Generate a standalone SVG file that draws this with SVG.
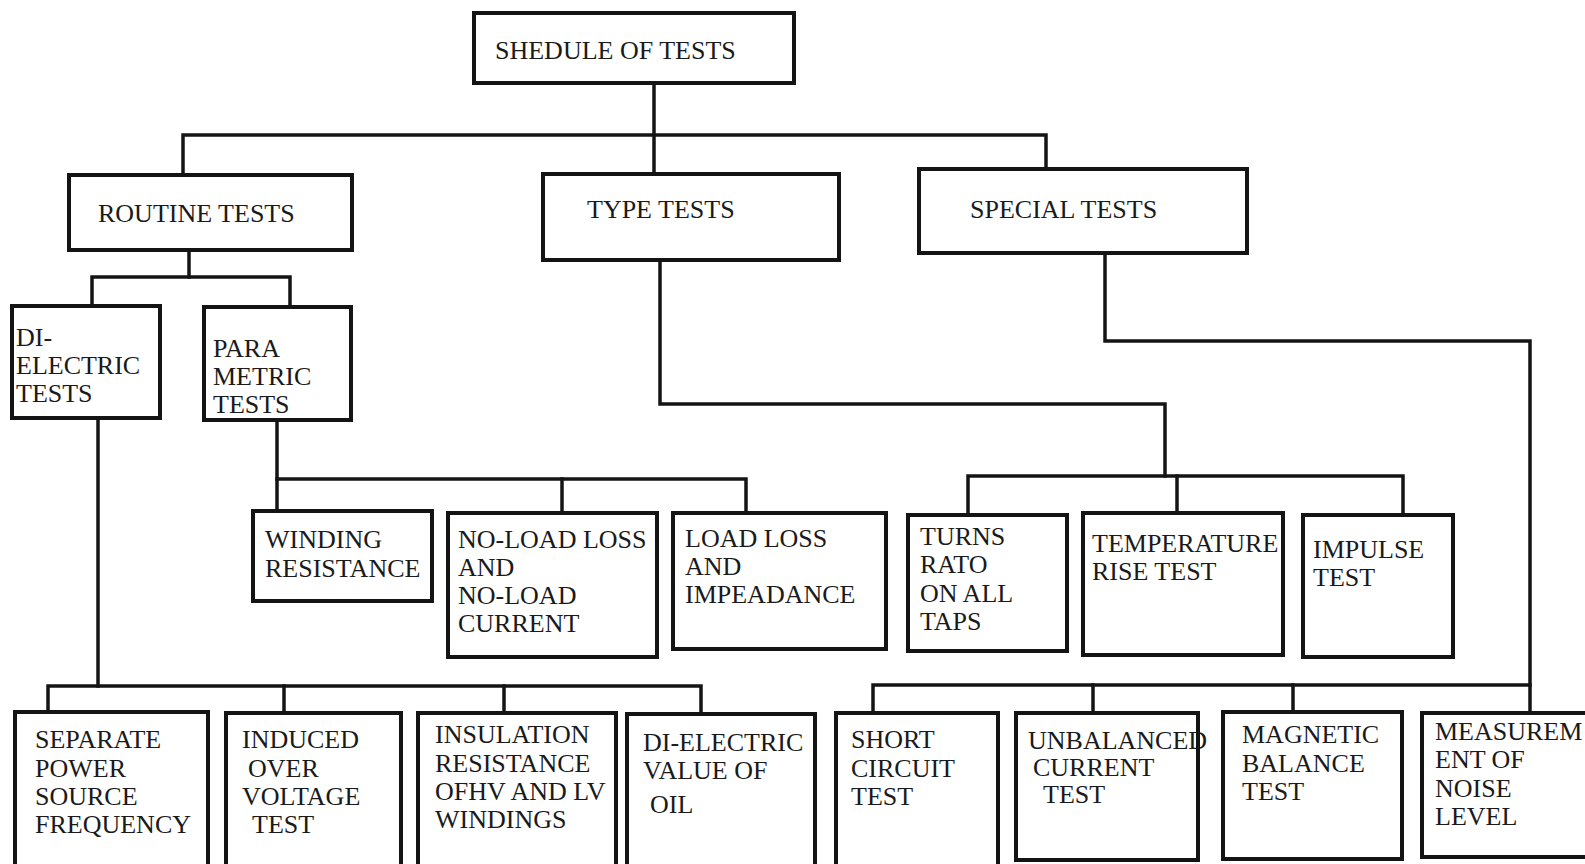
<svg xmlns="http://www.w3.org/2000/svg" width="1585" height="864" viewBox="0 0 1585 864">
<style>
.b{fill:#fff;stroke:#141414;stroke-width:4}
.c{fill:none;stroke:#141414;stroke-width:3.5;stroke-linecap:square}
text{font-family:"Liberation Serif","Times New Roman",serif;font-size:26px;fill:#1a1a1a}
</style>
<rect width="1585" height="864" fill="#fff"/>
<g id="connectors" class="c">
<polyline points="654,83 654,174"/>
<polyline points="183,174 183,135 1046,135 1046,169"/>
<polyline points="189,251 189,277"/>
<polyline points="92,305 92,277 290,277 290,307"/>
<polyline points="98,418 98,686"/>
<polyline points="48,712 48,686 701,686 701,714"/>
<polyline points="284,686 284,713"/>
<polyline points="504,686 504,713"/>
<polyline points="277,420 277,511"/>
<polyline points="277,479 746,479 746,513"/>
<polyline points="562,479 562,513"/>
<polyline points="660,260 660,404 1165,404 1165,476"/>
<polyline points="968,515 968,476 1403,476 1403,515"/>
<polyline points="1177,476 1177,513"/>
<polyline points="1105,253 1105,341 1530,341 1530,713"/>
<polyline points="873,713 873,685 1530,685"/>
<polyline points="1093,685 1093,713"/>
<polyline points="1293,685 1293,712"/>
</g>
<g id="n-schedule"><rect class="b" x="474" y="13" width="320" height="70"/><text x="495" y="59">SHEDULE OF TESTS</text></g>
<g id="n-routine"><rect class="b" x="69" y="175" width="283" height="75"/><text x="98" y="222">ROUTINE TESTS</text></g>
<g id="n-type"><rect class="b" x="543" y="174" width="296" height="86"/><text x="587" y="218">TYPE TESTS</text></g>
<g id="n-special"><rect class="b" x="919" y="169" width="328" height="84"/><text x="970" y="218">SPECIAL TESTS</text></g>
<g id="n-dielectric"><rect class="b" x="12" y="306" width="148" height="112"/><text x="16"><tspan x="16" y="346">DI-</tspan><tspan x="16" y="374">ELECTRIC</tspan><tspan x="16" y="402">TESTS</tspan></text></g>
<g id="n-parametric"><rect class="b" x="204" y="307" width="147" height="113"/><text><tspan x="213" y="357">PARA</tspan><tspan x="213" y="385">METRIC</tspan><tspan x="213" y="413">TESTS</tspan></text></g>
<g id="n-winding"><rect class="b" x="253" y="511" width="179" height="90"/><text><tspan x="265" y="548">WINDING</tspan><tspan x="265" y="577">RESISTANCE</tspan></text></g>
<g id="n-noload"><rect class="b" x="448" y="513" width="209" height="144"/><text><tspan x="458" y="548">NO-LOAD LOSS</tspan><tspan x="458" y="576">AND</tspan><tspan x="458" y="604">NO-LOAD</tspan><tspan x="458" y="632">CURRENT</tspan></text></g>
<g id="n-loadloss"><rect class="b" x="673" y="513" width="213" height="136"/><text><tspan x="685" y="547">LOAD LOSS</tspan><tspan x="685" y="575">AND</tspan><tspan x="685" y="603">IMPEADANCE</tspan></text></g>
<g id="n-turns"><rect class="b" x="908" y="515" width="159" height="136"/><text><tspan x="920" y="545">TURNS</tspan><tspan x="920" y="573">RATO</tspan><tspan x="920" y="602">ON ALL</tspan><tspan x="920" y="630">TAPS</tspan></text></g>
<g id="n-temperature"><rect class="b" x="1083" y="513" width="200" height="142"/><text><tspan x="1092" y="552">TEMPERATURE</tspan><tspan x="1092" y="580">RISE TEST</tspan></text></g>
<g id="n-impulse"><rect class="b" x="1303" y="515" width="150" height="142"/><text><tspan x="1313" y="558">IMPULSE</tspan><tspan x="1313" y="586">TEST</tspan></text></g>
<g id="n-separate"><rect class="b" x="15" y="712" width="193" height="160"/><text><tspan x="35" y="748">SEPARATE</tspan><tspan x="35" y="777">POWER</tspan><tspan x="35" y="805">SOURCE</tspan><tspan x="35" y="833">FREQUENCY</tspan></text></g>
<g id="n-induced"><rect class="b" x="226" y="713" width="175" height="160"/><text><tspan x="242" y="748">INDUCED</tspan><tspan x="248" y="777">OVER</tspan><tspan x="242" y="805">VOLTAGE</tspan><tspan x="252" y="833">TEST</tspan></text></g>
<g id="n-insulation"><rect class="b" x="418" y="713" width="198" height="160"/><text><tspan x="435" y="743">INSULATION</tspan><tspan x="435" y="772">RESISTANCE</tspan><tspan x="435" y="800">OFHV AND LV</tspan><tspan x="435" y="828">WINDINGS</tspan></text></g>
<g id="n-oil"><rect class="b" x="627" y="714" width="188" height="160"/><text><tspan x="643" y="751">DI-ELECTRIC</tspan><tspan x="643" y="779">VALUE OF</tspan><tspan x="650" y="813">OIL</tspan></text></g>
<g id="n-short"><rect class="b" x="836" y="713" width="162" height="160"/><text><tspan x="851" y="748">SHORT</tspan><tspan x="851" y="777">CIRCUIT</tspan><tspan x="851" y="805">TEST</tspan></text></g>
<g id="n-unbalanced"><rect class="b" x="1016" y="713" width="182" height="147"/><text><tspan x="1028" y="749">UNBALANCED</tspan><tspan x="1033" y="776">CURRENT</tspan><tspan x="1043" y="803">TEST</tspan></text></g>
<g id="n-magnetic"><rect class="b" x="1223" y="712" width="179" height="147"/><text><tspan x="1242" y="743">MAGNETIC</tspan><tspan x="1242" y="772">BALANCE</tspan><tspan x="1242" y="800">TEST</tspan></text></g>
<g id="n-noise"><rect class="b" x="1422" y="713" width="168" height="144"/><text><tspan x="1435" y="740">MEASUREM</tspan><tspan x="1435" y="768">ENT OF</tspan><tspan x="1435" y="797">NOISE</tspan><tspan x="1435" y="825">LEVEL</tspan></text></g>
</svg>
